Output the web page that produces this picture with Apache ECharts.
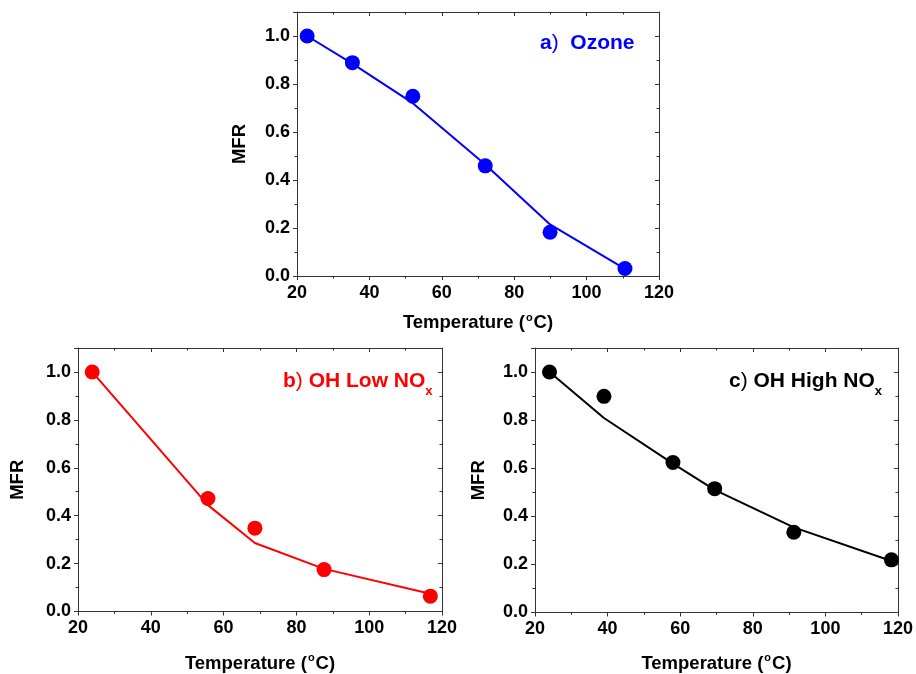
<!DOCTYPE html>
<html>
<head>
<meta charset="utf-8">
<title>MFR vs Temperature</title>
<script src="https://cdn.jsdelivr.net/npm/echarts@6/dist/echarts.min.js"></script>
<style>
  html, body { margin: 0; padding: 0; background: #fff; }
  #chart { width: 916px; height: 674px; }
</style>
</head>
<body>
<div id="chart"></div>
<script>
const ozoneTemp = [22.8, 35.3, 52.0, 72.0, 89.9, 110.6]
const ozoneMfr = [1.0, 0.889, 0.749, 0.459, 0.182, 0.031]
const ozoneFit = [1.0, 0.885, 0.72, 0.465, 0.215, 0.03]

const lowNoxTemp = [23.9, 55.7, 68.6, 87.6, 116.8]
const lowNoxMfr = [1.0, 0.472, 0.348, 0.175, 0.064]
const lowNoxFit = [1.0, 0.444, 0.286, 0.178, 0.074]

const highNoxTemp = [24.0, 39.0, 58.0, 69.5, 91.3, 118.2]
const highNoxMfr = [1.0, 0.899, 0.624, 0.515, 0.334, 0.219]
const highNoxFit = [1.0, 0.809, 0.619, 0.51, 0.354, 0.214]

const xMin = 20, xMax = 120, xStep = 20
const yMin = 0, yMax = 1.1, yStep = 0.2

const font = '"Liberation Sans", Arial, sans-serif'
const frameColor = '#333'

const panels = [
  { temp: ozoneTemp, mfr: ozoneMfr, fit: ozoneFit, color: '#0000ff',
    grid: { left: 297, top: 12, width: 362, height: 264 },
    title: 'a{p|)}  Ozone', titlePos: { left: 535, top: 28 },
    xGap: 36, yGap: 48 },
  { temp: lowNoxTemp, mfr: lowNoxMfr, fit: lowNoxFit, color: '#ff0000',
    grid: { left: 78, top: 348, width: 364, height: 265 },
    title: 'b{p|)} OH Low NO{sub|x}', titlePos: { left: 278, top: 360 },
    xGap: 41, yGap: 51 },
  { temp: highNoxTemp, mfr: highNoxMfr, fit: highNoxFit, color: '#000000',
    grid: { left: 535, top: 348, width: 363, height: 265 },
    title: 'c{p|)} OH High NO{sub|x}', titlePos: { left: 724, top: 360 },
    xGap: 40, yGap: 47 }
]

function pairs(xs, ys) {
  return xs.map((x, i) => [x, ys[i]])
}

const grids = [], xAxes = [], yAxes = [], series = [], titles = []

panels.forEach((p, i) => {
  grids.push(Object.assign({ containLabel: false }, p.grid))

  const xBase = {
    gridIndex: i, type: 'value', min: xMin, max: xMax, interval: xStep,
    splitLine: { show: false },
    axisLine: { show: true, onZero: false, lineStyle: { color: frameColor, width: 1 } },
    minorTick: { show: true, splitNumber: 2, length: 2.5, lineStyle: { color: frameColor } }
  }
  xAxes.push(Object.assign({}, xBase, {
    position: 'bottom',
    axisTick: { inside: false, length: 4, lineStyle: { color: frameColor } },
    axisLabel: { fontSize: 18, fontWeight: 'bold', color: '#000', fontFamily: font, margin: 8 },
    name: 'Temperature ({sup|o}C)', nameLocation: 'middle', nameGap: p.xGap,
    nameTextStyle: {
      fontSize: 18.5, fontWeight: 'bold', color: '#000', fontFamily: font,
      rich: { sup: { fontSize: 11, fontWeight: 'bold', color: '#000', fontFamily: font, verticalAlign: 'top', padding: [0, 1, 11, 1] } }
    }
  }))
  xAxes.push(Object.assign({}, xBase, {
    position: 'top',
    axisTick: { inside: true, length: 4, lineStyle: { color: frameColor } },
    axisLabel: { show: false }
  }))

  const yBase = {
    gridIndex: i, type: 'value', min: yMin, max: yMax,
    splitLine: { show: false }
  }
  // left: labelled major ticks + short ticks every 0.1
  yAxes.push(Object.assign({}, yBase, {
    position: 'left', interval: yStep,
    axisLine: { show: true, onZero: false, lineStyle: { color: frameColor, width: 1 } },
    axisTick: { inside: false, length: 4, lineStyle: { color: frameColor } },
    axisLabel: {
      fontSize: 18, fontWeight: 'bold', color: '#000', fontFamily: font, margin: 7,
      formatter: v => (v > 1.05 ? '' : v.toFixed(1))
    },
    name: 'MFR', nameLocation: 'middle', nameGap: p.yGap,
    nameTextStyle: { fontSize: 18.5, fontWeight: 'bold', color: '#000', fontFamily: font }
  }))
  yAxes.push(Object.assign({}, yBase, {
    position: 'left', interval: 0.1,
    axisLine: { show: false, onZero: false },
    axisTick: { inside: false, length: 2.5, lineStyle: { color: frameColor } },
    axisLabel: { show: false }
  }))
  // right: frame with inward ticks
  yAxes.push(Object.assign({}, yBase, {
    position: 'right', interval: yStep,
    axisLine: { show: true, onZero: false, lineStyle: { color: frameColor, width: 1 } },
    axisTick: { inside: true, length: 4, lineStyle: { color: frameColor } },
    axisLabel: { show: false }
  }))
  yAxes.push(Object.assign({}, yBase, {
    position: 'right', interval: 0.1,
    axisLine: { show: false, onZero: false },
    axisTick: { inside: true, length: 2.5, lineStyle: { color: frameColor } },
    axisLabel: { show: false }
  }))

  series.push({
    type: 'line', xAxisIndex: 2 * i, yAxisIndex: 4 * i,
    data: pairs(p.temp, p.fit), showSymbol: false, symbol: 'none',
    lineStyle: { color: p.color, width: 2 }, z: 2, animation: false
  })
  series.push({
    type: 'scatter', xAxisIndex: 2 * i, yAxisIndex: 4 * i,
    data: pairs(p.temp, p.mfr), symbol: 'circle', symbolSize: 15,
    itemStyle: { color: p.color, opacity: 1 }, z: 3, animation: false
  })

  titles.push({
    text: p.title, left: p.titlePos.left, top: p.titlePos.top,
    textStyle: {
      fontSize: 21, fontWeight: 'bold', color: p.color, fontFamily: font,
      rich: {
        p: { fontSize: 21, fontWeight: 'normal', color: p.color, fontFamily: font },
        sub: { fontSize: 13, fontWeight: 'bold', color: p.color, fontFamily: font, verticalAlign: 'bottom', padding: [20, 0, 0, 0] }
      }
    }
  })
})

const chart = echarts.init(document.getElementById('chart'), null, { renderer: 'canvas' })
chart.setOption({
  backgroundColor: '#fff',
  animation: false,
  title: titles,
  grid: grids,
  xAxis: xAxes,
  yAxis: yAxes,
  series: series
})
</script>
</body>
</html>
